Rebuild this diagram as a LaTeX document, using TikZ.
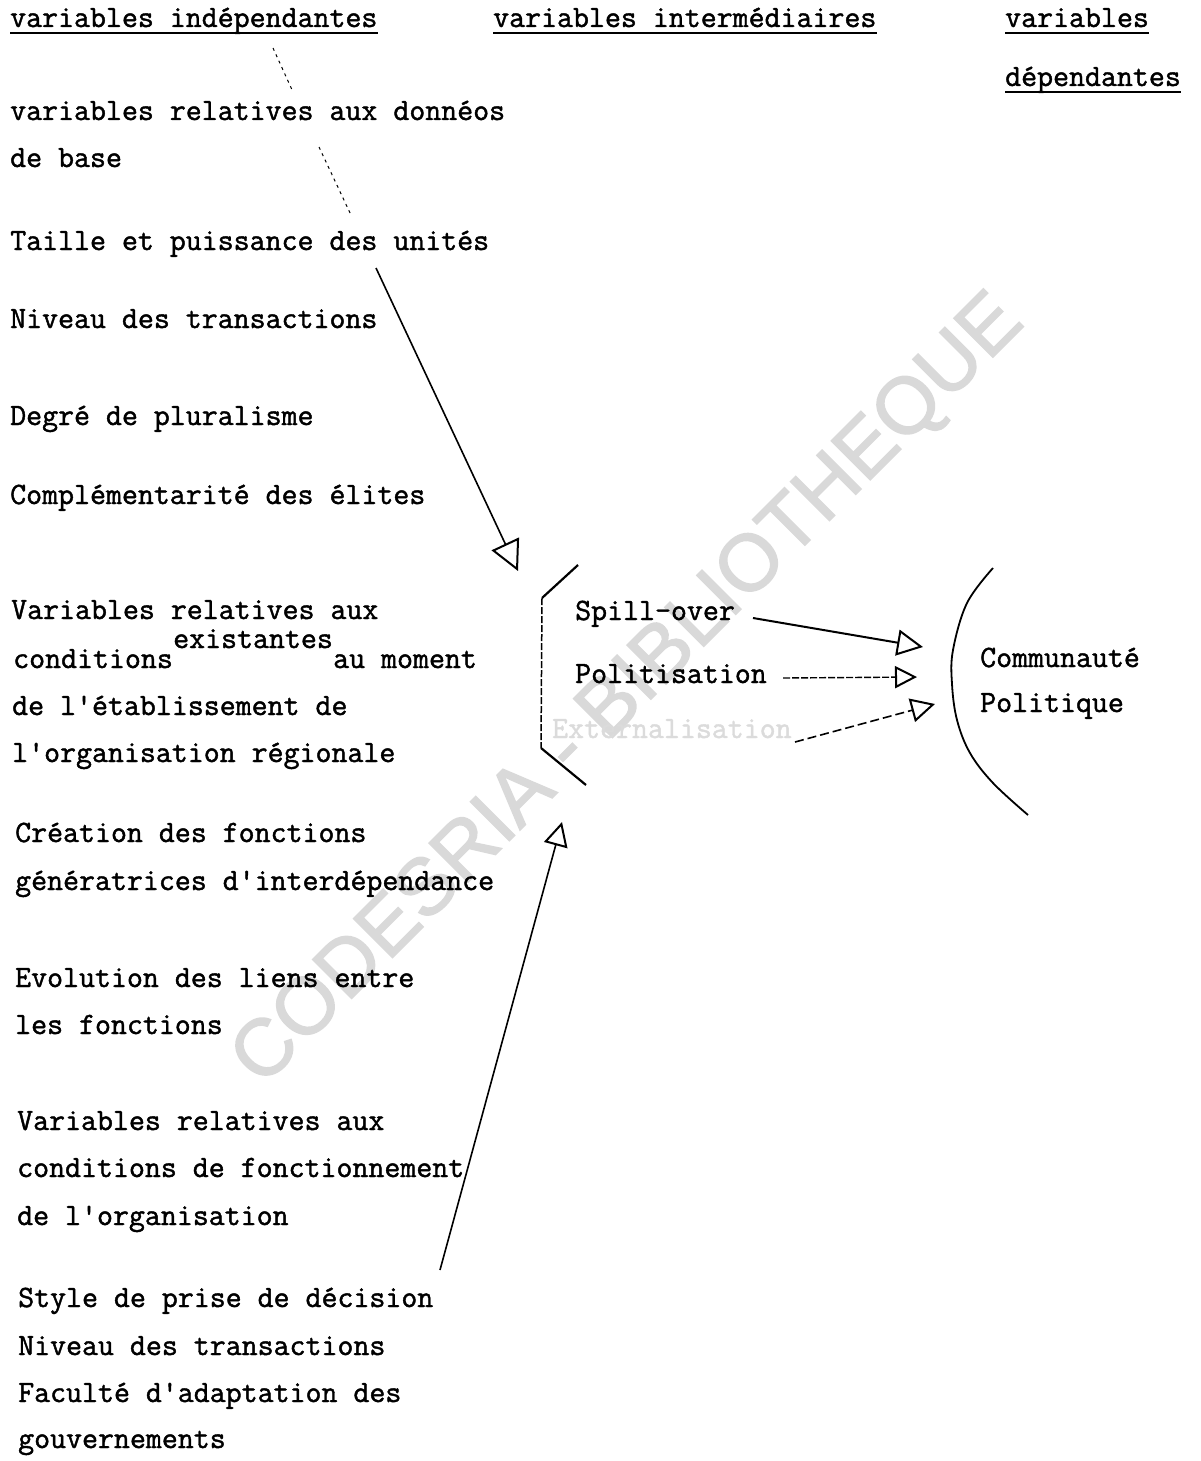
\documentclass[tikz,border=0pt]{standalone}
\usepackage{fontspec}
\newfontfamily\tw{Latin Modern Mono}[RawFeature={embolden=1.4}]
\newfontfamily\wm{Liberation Sans}[RawFeature={embolden=1.8}]
\usetikzlibrary{arrows.meta}
\begin{document}
\begin{tikzpicture}[x=1pt,y=-1pt,
  txt/.style={anchor=base west, inner sep=0pt, font={\tw\fontsize{31}{31}\selectfont}},
  ul/.style={line width=2.6pt},
  faint/.style={line width=1pt, dash pattern=on 3pt off 4pt},
  pen/.style={line width=1.6pt},
  opentip/.style={-{Triangle[open,length=#1,width=#1,line width=2pt]}},
  wmk/.style={anchor=base west, inner sep=0pt, rotate=45, text=black!15, font={\wm\fontsize{80}{80}\selectfont}}]
\useasboundingbox (0,0) rectangle (1200,1461);
% watermark
\node[wmk] (wm) at (262,1088) {CODESRIA - BIBLIOTHEQUE};
% headings
\node[txt] (h1) at (10,27) {variables indépendantes};
\node[txt] (h2) at (493,27) {variables intermédiaires};
\node[txt] (h3) at (1005,27) {variables};
\node[txt] (h4) at (1005,86) {dépendantes};
\foreach \n in {h1,h2,h3,h4}
  \draw[ul] ([yshift=-6pt]\n.base west) -- ([yshift=-6pt]\n.base east);
% left column
\node[txt] (t1) at (10,120) {variables relatives aux donnéos};
\node[txt] (t2) at (10,167) {de base};
\node[txt] (t3) at (10,250) {Taille et puissance des unités};
\node[txt] (t4) at (10,328) {Niveau des transactions};
\node[txt] (t5) at (10,425) {Degré de pluralisme};
\node[txt] (t6) at (10,504) {Complémentarité des élites};
\node[txt] (t7) at (11,619) {Variables relatives aux};
\node[txt] (t8) at (13,668) {conditions};
\node[txt] (t8b) at (173,648) {existantes};
\node[txt] (t8c) at (333,668) {au moment};
\node[txt] (t9) at (12,715) {de l'établissement de};
\node[txt] (t10) at (12,762) {l'organisation régionale};
\node[txt] (t11) at (15,842) {Création des fonctions};
\node[txt] (t12) at (15,890) {génératrices d'interdépendance};
\node[txt] (t13) at (15,987) {Evolution des liens entre};
\node[txt] (t14) at (15,1034) {les fonctions};
\node[txt] (t15) at (17,1130) {Variables relatives aux};
\node[txt] (t16) at (17,1177) {conditions de fonctionnement};
\node[txt] (t17) at (17,1225) {de l'organisation};
\node[txt] (t18) at (18,1307) {Style de prise de décision};
\node[txt] (t19) at (18,1355) {Niveau des transactions};
\node[txt] (t20) at (18,1402) {Faculté d'adaptation des};
\node[txt] (t21) at (18,1448) {gouvernements};
% middle
\node[txt] (m1) at (575,620) {Spill-over};
\node[txt] (m2) at (575,683) {Politisation};
\node[txt, text=black!14] (m3) at (552,738) {Externalisation};
% right
\node[txt] (r1) at (980,667) {Communauté};
\node[txt] (r2) at (980,712) {Politique};
% faint dotted strokes
\coordinate (d1a) at (273,48); \coordinate (d1b) at (293,92);
\coordinate (d2a) at (319,147); \coordinate (d2b) at (351,215);
\draw[faint] (d1a) -- (d1b);
\draw[faint] (d2a) -- (d2b);
% bracket of intermediate variables
\coordinate (bA) at (578,565); \coordinate (bB) at (542,598);
\coordinate (bC) at (541,748); \coordinate (bD) at (586,785);
\draw[line width=2.2pt] (bA) -- (bB);
\draw[line width=1.5pt, dash pattern=on 7pt off 2pt] (bB) -- (bC);
\draw[line width=2.2pt] (bC) -- (bD);
% arc of dependent variable
\draw[line width=1.8pt] plot[smooth, tension=0.6] coordinates
  {(993,568) (967,603) (953,650) (952,684) (957,720) (970,753) (993,783) (1028,815)};
% arrows
\coordinate (a1s) at (376,268); \coordinate (a1e) at (518,571);
\draw[pen, opentip=30pt] (a1s) -- (a1e);
\coordinate (a2s) at (440,1270); \coordinate (a2e) at (562,822);
\draw[pen, opentip=24pt] (a2s) -- (a2e);
\coordinate (s1) at (753,618); \coordinate (s2) at (923,647);
\draw[line width=2pt, opentip=26pt] (s1) -- (s2);
\coordinate (p1) at (783,678); \coordinate (p2) at (917,677);
\draw[line width=1.4pt, dash pattern=on 7pt off 2pt, opentip=22pt] (p1) -- (p2);
\coordinate (e1) at (795,742); \coordinate (e2) at (935,704);
\draw[line width=1.6pt, dash pattern=on 9pt off 4pt, opentip=24pt] (e1) -- (e2);
\end{tikzpicture}
\end{document}
